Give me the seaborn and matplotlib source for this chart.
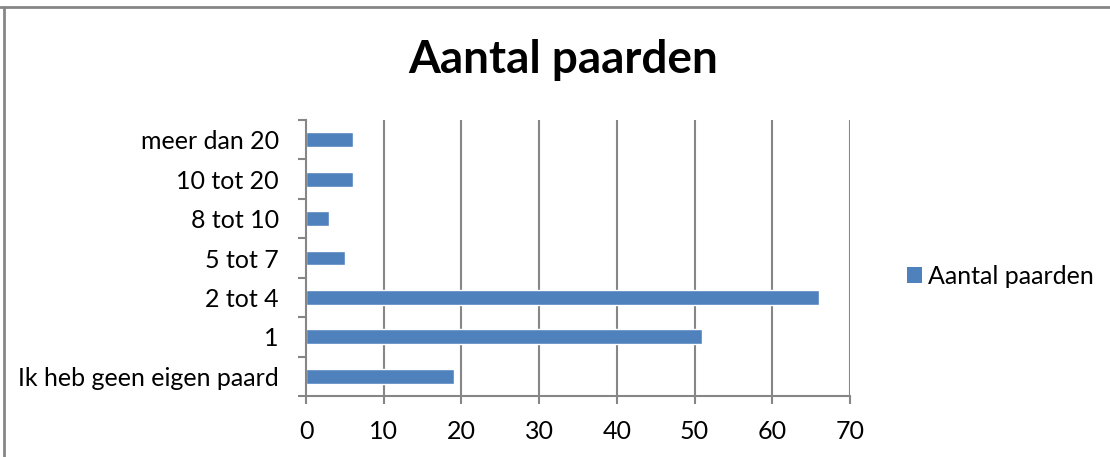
import matplotlib
matplotlib.use("Agg")
import matplotlib.pyplot as plt
import seaborn as sns
import pandas as pd
from matplotlib.lines import Line2D
from matplotlib.patches import Patch

categories = ["meer dan 20", "10 tot 20", "8 tot 10", "5 tot 7", "2 tot 4", "1", "Ik heb geen eigen paard"]
values = [6, 6, 3, 5, 66, 51, 19]
series_name = "Aantal paarden"
x_ticks = [0, 10, 20, 30, 40, 50, 60, 70]

sns.set_style("white")
plt.rcParams["font.family"] = ["Lato", "DejaVu Sans"]
plt.rcParams["text.color"] = "black"
plt.rcParams["xtick.labelcolor"] = "black"
plt.rcParams["ytick.labelcolor"] = "black"

df = pd.DataFrame({"cat": categories, "val": values})

fig = plt.figure(figsize=(11.1, 4.57), dpi=100)
ax = fig.add_axes([306/1110, 61/457, (850-306)/1110, (396-120)/457])

bar_color = "#4F81BD"
grid_color = "#868686"

sns.barplot(data=df, y="cat", x="val", order=categories, orient="h",
            color=bar_color, width=0.38, saturation=1, ax=ax)

ax.set_xlim(0, 70)
ax.set_ylim(len(categories) - 0.5, -0.5)
ax.set_xticks(x_ticks)
ax.set_xticklabels([str(t) for t in x_ticks])
ax.set_xlabel("")
ax.set_ylabel("")

for t in x_ticks[1:]:
    ax.axvline(t, color=grid_color, lw=1.5, zorder=0)

for s in ["top", "right"]:
    ax.spines[s].set_visible(False)
for s in ["left", "bottom"]:
    ax.spines[s].set_color(grid_color)
    ax.spines[s].set_linewidth(1.5)

ax.tick_params(axis="x", which="major", direction="out", length=6, width=1.5,
               color=grid_color, labelsize=18, pad=11, bottom=True)
ax.tick_params(axis="y", which="major", length=0, labelsize=18, pad=19.5)
ax.set_yticks([i - 0.5 for i in range(len(categories) + 1)], minor=True)
ax.tick_params(axis="y", which="minor", direction="out", length=6, width=1.5,
               color=grid_color, left=True)

fig.text(563/1110, 1 - 60/457, "Aantal paarden", ha="center", va="center",
         fontsize=33, fontweight="bold", color="black")

handle = Patch(facecolor=bar_color, edgecolor="none")
fig.legend([handle], [series_name], loc="center left",
           bbox_to_anchor=(907/1110, 1 - 276/457), frameon=False,
           borderpad=0, borderaxespad=0,
           fontsize=18, handlelength=0.6, handleheight=0.6, handletextpad=0.25)

fig.add_artist(Line2D([0, 1], [1 - 7/457, 1 - 7/457], transform=fig.transFigure,
                      color=grid_color, lw=2))
fig.add_artist(Line2D([4/1110, 4/1110], [0, 1 - 7/457], transform=fig.transFigure,
                      color=grid_color, lw=2))

fig.savefig("out.png", dpi=100, facecolor="white")
